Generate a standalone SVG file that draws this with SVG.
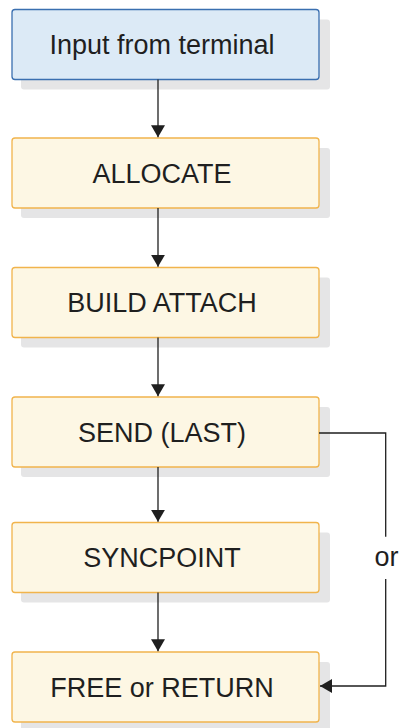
<svg xmlns="http://www.w3.org/2000/svg" width="401" height="728" viewBox="0 0 401 728">
<defs>
<style>
.shadow{fill:#e5e5e6;}
.blue{fill:#dceaf6;stroke:#3a6fb0;stroke-width:1.3;}
.yellow{fill:#fdf7e4;stroke:#f1b44c;stroke-width:1.3;}
.lbl{font-family:"Liberation Sans",Arial,sans-serif;font-size:27px;fill:#1f1f1f;text-anchor:middle;}
.conn{fill:none;stroke:#1f1f1f;stroke-width:1.3;}
</style>
<marker id="arr" viewBox="0 0 12 14" refX="12" refY="7" markerWidth="12" markerHeight="14" markerUnits="userSpaceOnUse" orient="auto">
<path d="M0,0 L12,7 L0,14 Z" fill="#1f1f1f"/>
</marker>
</defs>
<rect width="401" height="728" fill="#ffffff"/>
<g id="node-input">
<rect class="shadow" x="21" y="19.5" width="309" height="70" rx="3"/>
<rect class="blue" x="12" y="9.5" width="307" height="70" rx="3"/>
<text class="lbl" x="162" y="54.2">Input from terminal</text>
</g>
<g id="node-allocate">
<rect class="shadow" x="21" y="148" width="309" height="70" rx="3"/>
<rect class="yellow" x="12" y="138" width="307" height="70" rx="3"/>
<text class="lbl" x="162" y="182.7">ALLOCATE</text>
</g>
<g id="node-build">
<rect class="shadow" x="21" y="277.5" width="309" height="70" rx="3"/>
<rect class="yellow" x="12" y="267.5" width="307" height="70" rx="3"/>
<text class="lbl" x="162" y="312.2">BUILD ATTACH</text>
</g>
<g id="node-send">
<rect class="shadow" x="21" y="407" width="309" height="70" rx="3"/>
<rect class="yellow" x="12" y="397" width="307" height="70" rx="3"/>
<text class="lbl" x="162" y="441.7">SEND (LAST)</text>
</g>
<g id="node-syncpoint">
<rect class="shadow" x="21" y="532.5" width="309" height="70" rx="3"/>
<rect class="yellow" x="12" y="522.5" width="307" height="70" rx="3"/>
<text class="lbl" x="162" y="567.2">SYNCPOINT</text>
</g>
<g id="node-free">
<rect class="shadow" x="21" y="662" width="309" height="70" rx="3"/>
<rect class="yellow" x="12" y="652" width="307" height="70" rx="3"/>
<text class="lbl" x="162" y="696.7">FREE or RETURN</text>
</g>
<g id="connectors">
<path class="conn" d="M158,79.5 V137.3" marker-end="url(#arr)"/>
<path class="conn" d="M158,208 V266.8" marker-end="url(#arr)"/>
<path class="conn" d="M158,337.5 V396.3" marker-end="url(#arr)"/>
<path class="conn" d="M158,467 V521.8" marker-end="url(#arr)"/>
<path class="conn" d="M158,592.5 V651.3" marker-end="url(#arr)"/>
<path class="conn" d="M319,433 H385.7 V536.7"/>
<path class="conn" d="M385.7,579 V686 H320" marker-end="url(#arr)"/>
<text class="lbl" x="386.5" y="565.7">or</text>
</g>
</svg>
